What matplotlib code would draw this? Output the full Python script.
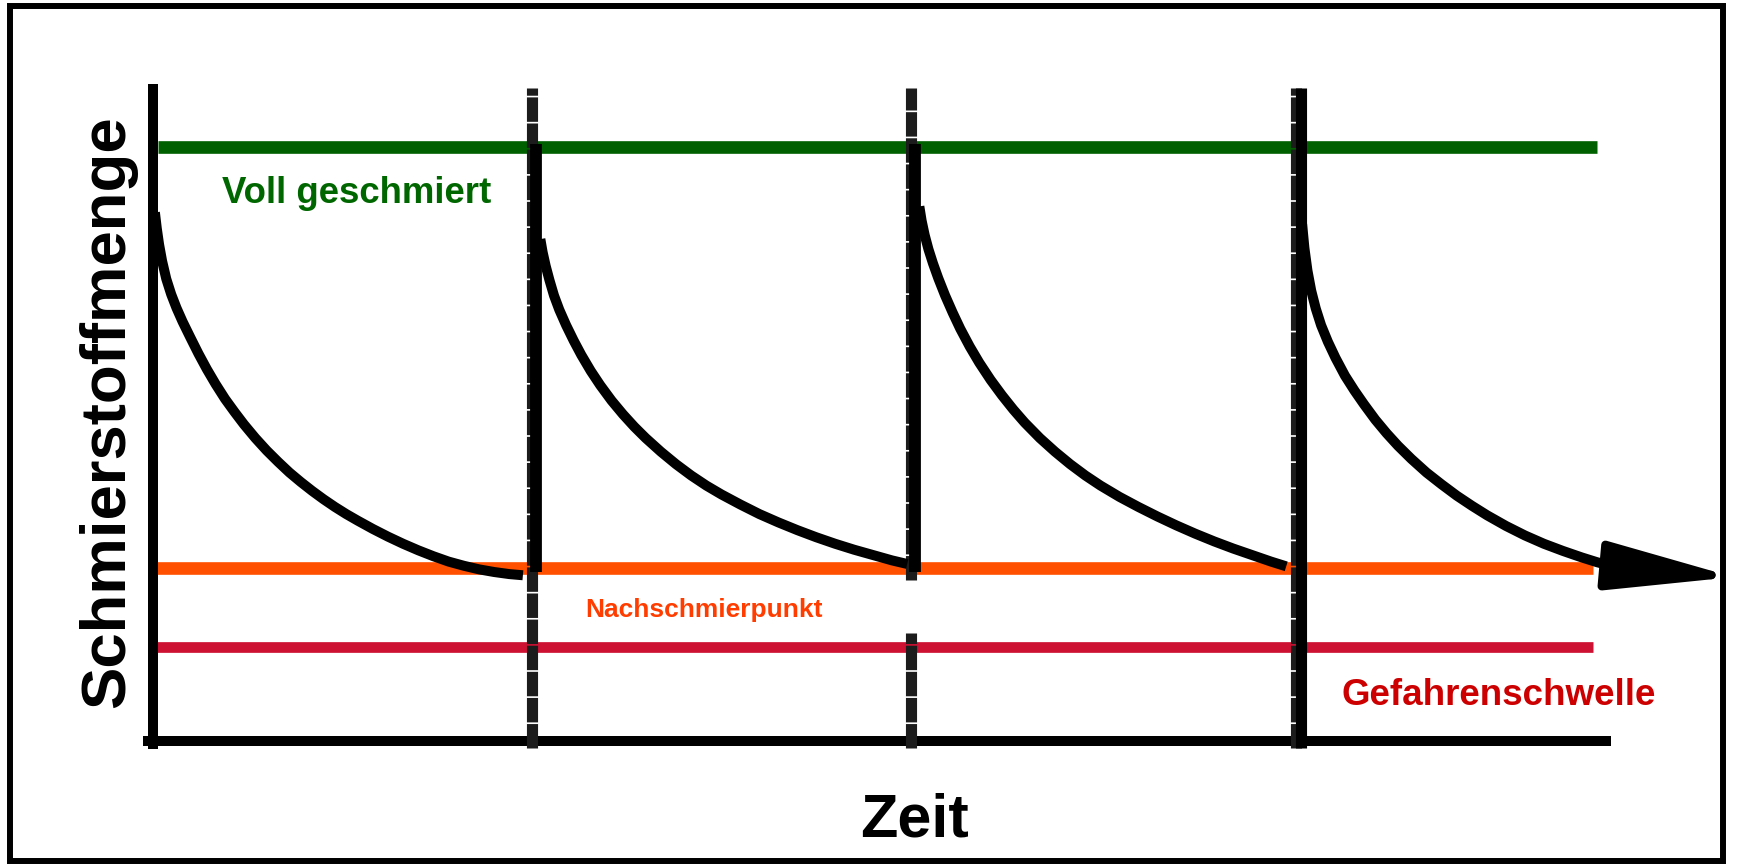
import matplotlib
matplotlib.use("Agg")
import matplotlib.pyplot as plt
from matplotlib.patches import Rectangle

plt.rcParams['font.family'] = ['Liberation Sans', 'DejaVu Sans']

# Füllstände in % (100 = voll geschmiert)
level_full = 100.0
level_relube = 29.1
level_danger = 15.8

# Nachschmierzeitpunkte (Zeit in Intervallen)
refill_t = [1.0, 2.0, 3.015]

# Schmierstoffmenge je Zyklus
t1 = [0.005, 0.010, 0.016, 0.024, 0.035, 0.048, 0.062, 0.078, 0.098, 0.12, 0.142, 0.165, 0.19,
      0.215, 0.24, 0.27, 0.30, 0.33, 0.36, 0.39, 0.42, 0.45, 0.48, 0.51, 0.54, 0.58, 0.62,
      0.66, 0.70, 0.74, 0.78, 0.82, 0.86, 0.90, 0.94, 0.976]
y1 = [89.0, 86.3, 83.6, 80.8, 77.8, 75.2, 72.9, 70.6, 68.0, 65.2, 62.6, 60.1, 57.6,
      55.4, 53.3, 51.0, 48.9, 47.0, 45.2, 43.6, 42.1, 40.7, 39.4, 38.2, 37.1, 35.7, 34.4,
      33.2, 32.1, 31.1, 30.2, 29.5, 28.9, 28.45, 28.1, 27.9]

t2 = [1.022, 1.028, 1.036, 1.046, 1.058, 1.072, 1.09, 1.11, 1.13, 1.155, 1.18, 1.21, 1.24,
      1.27, 1.30, 1.34, 1.38, 1.42, 1.46, 1.50, 1.55, 1.60, 1.65, 1.70, 1.75, 1.80, 1.85,
      1.90, 1.95, 1.99]
y2 = [84.5, 82.3, 80.0, 77.6, 75.0, 72.6, 70.0, 67.4, 65.0, 62.3, 59.9, 57.3, 55.0,
      52.9, 51.0, 48.7, 46.6, 44.7, 43.0, 41.5, 39.8, 38.2, 36.8, 35.5, 34.3, 33.2, 32.2,
      31.3, 30.4, 29.8]

t3 = [2.022, 2.028, 2.036, 2.046, 2.058, 2.072, 2.09, 2.11, 2.13, 2.155, 2.18, 2.21, 2.24,
      2.27, 2.30, 2.34, 2.38, 2.42, 2.46, 2.50, 2.55, 2.60, 2.65, 2.70, 2.75, 2.80, 2.85,
      2.90, 2.95, 2.99]
y3 = [90.0, 87.6, 85.2, 82.8, 80.4, 77.9, 75.0, 72.1, 69.4, 66.4, 63.7, 60.8, 58.2,
      55.8, 53.6, 51.0, 48.7, 46.6, 44.7, 43.0, 41.1, 39.4, 37.8, 36.3, 34.9, 33.6, 32.4,
      31.3, 30.2, 29.4]

t4 = [3.032, 3.038, 3.046, 3.056, 3.068, 3.082, 3.10, 3.12, 3.145, 3.17, 3.195, 3.225,
      3.255, 3.285, 3.32, 3.36, 3.40, 3.44, 3.48, 3.52, 3.57, 3.62, 3.67, 3.72, 3.77,
      3.81, 3.852]
y4 = [87.0, 83.0, 79.2, 75.8, 72.8, 70.0, 67.2, 64.5, 61.5, 59.0, 56.7, 54.1,
      51.8, 49.7, 47.5, 45.2, 43.2, 41.3, 39.6, 38.0, 36.2, 34.6, 33.2, 32.0, 30.9,
      30.1, 29.4]
arrow_tip = (4.17, 27.6)

fig = plt.figure(figsize=(17.37, 8.64), dpi=100)
ax = fig.add_axes([0, 0, 1, 1])
ax.set_xlim(-0.4037, 4.1794)
ax.set_ylim(-20.71, 124.75)
ax.set_xticks([])
ax.set_yticks([])
for s in ['top', 'right']:
    ax.spines[s].set_visible(False)
ax.spines['left'].set_position(('data', 0))
ax.spines['left'].set_bounds(-0.5, 109.8)
ax.spines['bottom'].set_position(('data', 0))
ax.spines['bottom'].set_bounds(-0.013, 3.834)
for s in ['left', 'bottom']:
    ax.spines[s].set_linewidth(7.2)
    ax.spines[s].set_color('black')

# Grenzlinien
ax.plot([0.013, 3.81], [level_full] * 2, color='#006000', lw=9.1, solid_capstyle='butt', zorder=2)
ax.plot([-0.005, 3.80], [level_relube] * 2, color='#ff5000', lw=9.1, solid_capstyle='butt', zorder=2)
ax.plot([-0.005, 3.80], [level_danger] * 2, color='#cc1133', lw=7.7, solid_capstyle='butt', zorder=2)

# Nachschmierlinien (gestrichelt), die mittlere mit Lücke beim Text
dash = (0, (2.2, 0.15))
ax.plot([refill_t[0]] * 2, [-1.2, 110], color='#1c1c1c', lw=8, ls=dash, zorder=3)
ax.plot([refill_t[1]] * 2, [-1.2, 18.2], color='#1c1c1c', lw=8, ls=dash, zorder=3)
ax.plot([refill_t[1]] * 2, [27.1, 110], color='#1c1c1c', lw=8, ls=dash, zorder=3)
ax.plot([refill_t[2]] * 2, [-1.2, 110], color='#1c1c1c', lw=8, ls=dash, zorder=3)
# Nachschmiersprung (durchgezogen)
ax.plot([refill_t[0] + 0.01] * 2, [28.5, 100.5], color='black', lw=8.5, solid_capstyle='butt', zorder=4)
ax.plot([refill_t[1] + 0.01] * 2, [28.5, 100.5], color='black', lw=8.5, solid_capstyle='butt', zorder=4)
ax.plot([refill_t[2] + 0.015] * 2, [-1.2, 110], color='black', lw=8, solid_capstyle='butt', zorder=4)

# Verbrauchskurven
for t, y in [(t1, y1), (t2, y2), (t3, y3), (t4, y4)]:
    ax.plot(t, y, color='black', lw=7.2, solid_capstyle='butt', solid_joinstyle='round', zorder=5)
ax.annotate('', xy=arrow_tip, xytext=(t4[-1], y4[-1]),
            arrowprops=dict(arrowstyle='-|>,head_length=7.8,head_width=1.5', mutation_scale=10,
                            color='black', lw=6, shrinkA=0, shrinkB=0, joinstyle='round'),
            zorder=6)

# Beschriftungen
ax.text(0.182, 90.6, 'Voll geschmiert', color='#006600', fontsize=26.4, fontweight='bold',
        ha='left', va='baseline')
ax.text(1.140, 20.9, 'Nachschmierpunkt', color='#ff3d00', fontsize=19, fontweight='bold',
        ha='left', va='baseline')
ax.text(3.137, 6.1, 'Gefahrenschwelle', color='#cc0000', fontsize=26.5, fontweight='bold',
        ha='left', va='baseline')
ax.text(2.008, -16.0, 'Zeit', color='black', fontsize=44, fontweight='bold',
        ha='center', va='baseline')
ax.text(-0.119, 55.4, 'Schmierstoffmenge', color='black', fontsize=45.7, fontweight='bold',
        rotation=90, ha='center', va='center')

# Rahmen
fig.add_artist(Rectangle((10 / 1737, 3 / 864), 1713 / 1737, 855 / 864, fill=False,
                         edgecolor='black', lw=4.3, transform=fig.transFigure, zorder=10))

plt.savefig('out.png', dpi=100)
